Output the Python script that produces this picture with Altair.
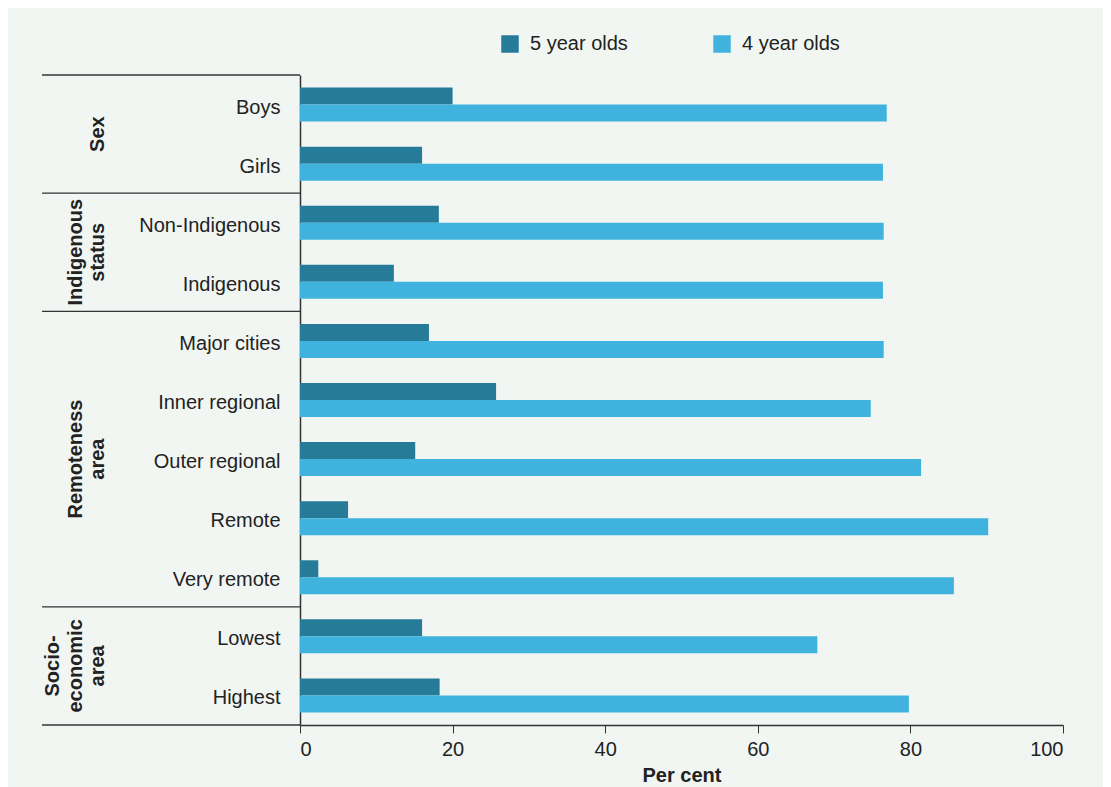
import altair as alt
import pandas as pd

# ---- data ----
categories = ["Boys", "Girls", "Non-Indigenous", "Indigenous", "Major cities",
              "Inner regional", "Outer regional", "Remote", "Very remote",
              "Lowest", "Highest"]
five_year_olds = [20.0, 16.0, 18.2, 12.3, 16.9, 25.7, 15.1, 6.3, 2.4, 16.0, 18.3]
four_year_olds = [76.9, 76.4, 76.5, 76.4, 76.5, 74.8, 81.4, 90.2, 85.7, 67.8, 79.8]
series_names = ["5 year olds", "4 year olds"]
series_colors = ["#267B99", "#3FB3DE"]

group_labels = [["Sex"], ["Indigenous", "status"], ["Remoteness", "area"],
                ["Socio-", "economic", "area"]]
group_sizes = [2, 2, 5, 2]
x_ticks = [0, 20, 40, 60, 80, 100]

FONT = "Liberation Sans"
TXT = "#222222"
LINE = "#333333"

# ---- tables ----
rows = []
for c, a, b in zip(categories, five_year_olds, four_year_olds):
    rows.append({"category": c, "series": series_names[0], "value": a})
    rows.append({"category": c, "series": series_names[1], "value": b})
bars_df = pd.DataFrame(rows)

bounds = [0]
for s in group_sizes:
    bounds.append(bounds[-1] + s)
rules_df = pd.DataFrame({"pos": bounds})

glines = []
for i, lines in enumerate(group_labels):
    center = (bounds[i] + bounds[i + 1]) / 2
    for j, ln in enumerate(lines):
        glines.append({"line": ln, "center": center, "k": len(lines) - 1 - j})
groups_df = pd.DataFrame(glines)
n = len(categories)

W, H = 763, 650
step = H / n
bar_h = 17
po = (step / bar_h - 2) / 2
LINE_H = 22.5
LABEL_X = -192

bars = alt.Chart(bars_df).mark_bar().encode(
    x=alt.X("value:Q", scale=alt.Scale(domain=[0, 100], nice=False),
            axis=alt.Axis(values=x_ticks, title="Per cent", grid=False,
                          tickSize=8, tickColor=LINE, tickWidth=1,
                          domainColor=LINE, domainWidth=1.5,
                          labelFontSize=20, labelFont=FONT, labelColor=TXT,
                          labelPadding=6, titleFontSize=20, titleFont=FONT,
                          titleFontWeight="bold", titleColor=TXT, titlePadding=6)),
    y=alt.Y("category:N", sort=categories,
            scale=alt.Scale(paddingInner=0, paddingOuter=0),
            axis=alt.Axis(title=None, ticks=False, domainColor=LINE, domainWidth=1.5,
                          labelFontSize=20, labelFont=FONT, labelColor=TXT,
                          labelPadding=20, labelOffset=3)),
    yOffset=alt.YOffset("series:N", sort=series_names,
                        scale=alt.Scale(paddingInner=0, paddingOuter=po)),
    color=alt.Color("series:N", sort=series_names,
                    scale=alt.Scale(domain=series_names, range=series_colors),
                    legend=alt.Legend(orient="none", legendX=200, legendY=-41,
                                      direction="horizontal", title=None,
                                      symbolType="square", symbolSize=306,
                                      symbolStrokeWidth=0, symbolOpacity=1,
                                      labelFontSize=20, labelFont=FONT,
                                      labelColor=TXT, labelOffset=10,
                                      columnPadding=84, padding=0)),
)

yq = alt.Scale(domain=[0, n], reverse=True, nice=False, zero=False)

rules = alt.Chart(rules_df).mark_rule(color=LINE, strokeWidth=1.3).encode(
    y=alt.Y("pos:Q", scale=yq, axis=None),
    x=alt.value(-258),
    x2=alt.value(0),
)

texts = alt.Chart(groups_df).mark_text(
    angle=270, align="center", baseline="bottom", fontSize=20,
    fontWeight="bold", font=FONT, color=TXT,
).encode(
    y=alt.Y("center:Q", scale=yq, axis=None),
    x=alt.X("k:Q", scale=alt.Scale(domain=[0, 1], range=[LABEL_X, LABEL_X - LINE_H],
                                   nice=False, zero=False), axis=None),
    text="line:N",
)

chart = alt.layer(bars, rules, texts).resolve_scale(
    y="independent", x="independent"
).properties(
    width=W, height=H,
    autosize=alt.AutoSizeParams(type="none"),
    padding={"left": 292, "top": 67, "right": 40, "bottom": 62},
    background="#F1F6F3",
).configure_view(strokeWidth=0)

chart.save("out.html", embed_options={"renderer": "svg", "actions": False})
